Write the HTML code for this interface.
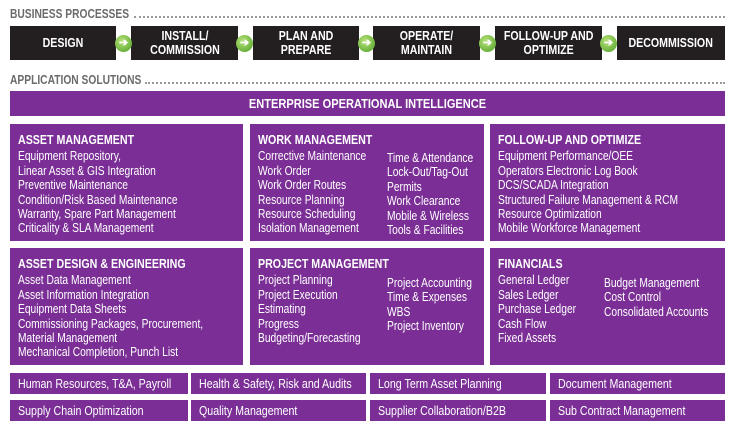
<!DOCTYPE html>
<html><head><meta charset="utf-8"><style>
*{margin:0;padding:0;box-sizing:border-box}
body{width:735px;height:433px;background:#fff;position:relative;overflow:hidden;font-family:"Liberation Sans",sans-serif;}
.a{position:absolute}
.s{white-space:nowrap;transform:scaleX(.82);transform-origin:0 0;display:inline-block}
.h{font-weight:bold;color:#6b6b6b;font-size:12.5px;white-space:nowrap}
.dot{position:absolute;border-top:2px dotted #9a9a9a;height:0}
.bk{position:absolute;top:26px;height:34px;background:#231f20;color:#fff;font-weight:bold;font-size:12.5px;line-height:14px;display:flex;align-items:center;justify-content:center;text-align:center;white-space:nowrap}
.bk span{display:inline-block;transform:scaleX(.85)}
.gc{position:absolute;top:35px;width:17px;height:17px;border-radius:50%;background:radial-gradient(circle at 40% 35%,#b7e27a,#6cb33e 70%);color:#fff;font-size:11px;font-weight:bold;line-height:17px;text-align:center}
.p{position:absolute;background:#7b2f96;color:#fff;overflow:hidden}
.box{padding:9px 8px;font-size:12.5px;line-height:14.4px}
.box b{display:block;font-size:13px;margin-bottom:2px}
.col{position:absolute;white-space:nowrap;transform:scaleX(.82);transform-origin:0 0}
.sm{font-size:13px;line-height:21px;padding-left:8px}
</style></head><body>
<div class="dot" style="left:134px;top:16px;width:591px"></div>
<div class="a h" style="left:10px;top:7px"><span class="s">BUSINESS PROCESSES</span></div>
<div class="bk" style="left:10px;width:106px"><span>DESIGN</span></div>
<div class="bk" style="left:131px;width:107px"><span>INSTALL/<br>COMMISSION</span></div>
<div class="bk" style="left:253px;width:106px"><span>PLAN AND<br>PREPARE</span></div>
<div class="bk" style="left:373px;width:107px"><span>OPERATE/<br>MAINTAIN</span></div>
<div class="bk" style="left:495px;width:107px"><span>FOLLOW-UP AND<br>OPTIMIZE</span></div>
<div class="bk" style="left:617px;width:108px"><span>DECOMMISSION</span></div>
<div class="gc" style="left:115px">➔</div>
<div class="gc" style="left:236px">➔</div>
<div class="gc" style="left:358px">➔</div>
<div class="gc" style="left:479px">➔</div>
<div class="gc" style="left:600px">➔</div>
<div class="dot" style="left:145px;top:82px;width:580px"></div>
<div class="a h" style="left:10px;top:73px"><span class="s">APPLICATION SOLUTIONS</span></div>
<div class="p" style="left:10px;top:91px;width:715px;height:25px;font-weight:bold;font-size:13px;line-height:25px;text-align:center"><span style="display:inline-block;transform:scaleX(.85)">ENTERPRISE OPERATIONAL INTELLIGENCE</span></div>

<div class="p box" style="left:10px;top:124px;width:233px;height:117px"><div class="s"><b>ASSET MANAGEMENT</b>Equipment Repository,<br>Linear Asset &amp; GIS Integration<br>Preventive Maintenance<br>Condition/Risk Based Maintenance<br>Warranty, Spare Part Management<br>Criticality &amp; SLA Management</div></div>
<div class="p box" style="left:250px;top:124px;width:234px;height:117px"><div class="s"><b>WORK MANAGEMENT</b>Corrective Maintenance<br>Work Order<br>Work Order Routes<br>Resource Planning<br>Resource Scheduling<br>Isolation Management</div>
<div class="col" style="left:137px;top:27px">Time &amp; Attendance<br>Lock-Out/Tag-Out<br>Permits<br>Work Clearance<br>Mobile &amp; Wireless<br>Tools &amp; Facilities</div></div>
<div class="p box" style="left:490px;top:124px;width:235px;height:117px"><div class="s"><b>FOLLOW-UP AND OPTIMIZE</b>Equipment Performance/OEE<br>Operators Electronic Log Book<br>DCS/SCADA Integration<br>Structured Failure Management &amp; RCM<br>Resource Optimization<br>Mobile Workforce Management</div></div>

<div class="p box" style="left:10px;top:248px;width:233px;height:117px"><div class="s"><b>ASSET DESIGN &amp; ENGINEERING</b>Asset Data Management<br>Asset Information Integration<br>Equipment Data Sheets<br>Commissioning Packages, Procurement,<br>Material Management<br>Mechanical Completion, Punch List</div></div>
<div class="p box" style="left:250px;top:248px;width:234px;height:117px"><div class="s"><b>PROJECT MANAGEMENT</b>Project Planning<br>Project Execution<br>Estimating<br>Progress<br>Budgeting/Forecasting</div>
<div class="col" style="left:137px;top:28px">Project Accounting<br>Time &amp; Expenses<br>WBS<br>Project Inventory</div></div>
<div class="p box" style="left:490px;top:248px;width:235px;height:117px"><div class="s"><b>FINANCIALS</b>General Ledger<br>Sales Ledger<br>Purchase Ledger<br>Cash Flow<br>Fixed Assets</div>
<div class="col" style="left:114px;top:28px">Budget Management<br>Cost Control<br>Consolidated Accounts</div></div>

<div class="p sm" style="left:10px;top:373px;width:178px;height:21px"><span class="s">Human Resources, T&amp;A, Payroll</span></div>
<div class="p sm" style="left:191px;top:373px;width:175px;height:21px"><span class="s">Health &amp; Safety, Risk and Audits</span></div>
<div class="p sm" style="left:370px;top:373px;width:176px;height:21px"><span class="s">Long Term Asset Planning</span></div>
<div class="p sm" style="left:550px;top:373px;width:175px;height:21px"><span class="s">Document Management</span></div>
<div class="p sm" style="left:10px;top:400px;width:178px;height:21px"><span class="s">Supply Chain Optimization</span></div>
<div class="p sm" style="left:191px;top:400px;width:175px;height:21px"><span class="s">Quality Management</span></div>
<div class="p sm" style="left:370px;top:400px;width:176px;height:21px"><span class="s">Supplier Collaboration/B2B</span></div>
<div class="p sm" style="left:550px;top:400px;width:175px;height:21px"><span class="s">Sub Contract Management</span></div>
</body></html>
